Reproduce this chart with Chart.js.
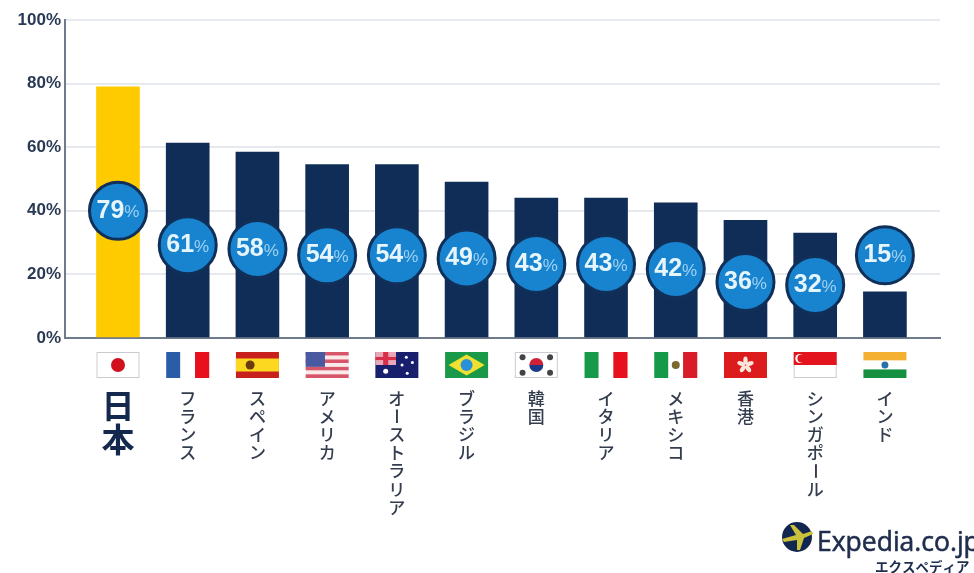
<!DOCTYPE html>
<html lang="ja">
<head>
<meta charset="utf-8">
<style>
  html, body { margin: 0; padding: 0; background: #fff; overflow: hidden; }
  canvas { display: block; filter: blur(0.5px); }
</style>
<script src="https://cdn.jsdelivr.net/npm/chart.js@4/dist/chart.umd.min.js"></script>
</head>
<body>
<canvas id="chart" width="974" height="573"></canvas>
<script>
const categories = ['日本', 'フランス', 'スペイン', 'アメリカ', 'オーストラリア', 'ブラジル', '韓国', 'イタリア', 'メキシコ', '香港', 'シンガポール', 'インド'];
const flags = ['jp', 'fr', 'es', 'us', 'au', 'br', 'kr', 'it', 'mx', 'hk', 'sg', 'in'];
// bar heights
const barValues = [79, 61.3, 58.5, 54.5, 54.5, 49, 44, 44, 42.5, 37, 33, 14.5];
// numbers printed in the circles
const badgeLabels = ['79', '61', '58', '54', '54', '49', '43', '43', '42', '36', '32', '15'];
// height of each circle on the % axis
const badgeLevels = [40, 29.2, 28, 26, 26, 25, 23.3, 23.3, 21.7, 17.6, 16.7, 26];
const tickLabels = ['0%', '20%', '40%', '60%', '80%', '100%'];

const NAVY = '#0f2d57';
const YELLOW = '#fecb00';

function drawFlag(ctx, code, x, y, w, h) {
  const rect = (c, rx, ry, rw, rh) => { ctx.fillStyle = c; ctx.fillRect(x + rx * w, y + ry * h, rw * w, rh * h); };
  const disc = (c, cx, cy, r) => { ctx.fillStyle = c; ctx.beginPath(); ctx.arc(x + cx * w, y + cy * h, r, 0, Math.PI * 2); ctx.fill(); };
  const frame = () => { ctx.strokeStyle = '#c9cdd2'; ctx.lineWidth = 1; ctx.strokeRect(x + 0.5, y + 0.5, w - 1, h - 1); };
  if (code === 'jp') {
    rect('#fff', 0, 0, 1, 1); frame(); disc('#d0101c', 0.5, 0.5, 7);
  } else if (code === 'fr') {
    rect('#2a5ca8', 0, 0, 0.33, 1); rect('#fff', 0.33, 0, 0.34, 1); rect('#e8101c', 0.67, 0, 0.33, 1);
  } else if (code === 'es') {
    rect('#c8201c', 0, 0, 1, 1); rect('#fcd820', 0, 0.25, 1, 0.5); disc('#6a3a10', 0.33, 0.5, 4.5);
  } else if (code === 'us') {
    for (let i = 0; i < 7; i++) {
      rect(i % 2 ? '#fbeaea' : '#d8566a', 0, i / 7, 1, 1 / 7);
    }
    rect('#4a5aa0', 0, 0, 0.45, 4 / 7);
  } else if (code === 'au') {
    rect('#18206e', 0, 0, 1, 1);
    rect('#e8a8b8', 0, 0, 0.48, 0.5);
    rect('#d8304a', 0, 0.19, 0.48, 0.12); rect('#d8304a', 0.18, 0, 0.12, 0.5);
    disc('#fff', 0.24, 0.74, 2.5);
    disc('#fff', 0.72, 0.2, 1.5); disc('#fff', 0.86, 0.4, 1.5); disc('#fff', 0.62, 0.5, 1.5); disc('#fff', 0.74, 0.82, 1.5);
  } else if (code === 'br') {
    rect('#1a9a48', 0, 0, 1, 1);
    ctx.fillStyle = '#f0e030';
    ctx.beginPath();
    ctx.moveTo(x + 0.08 * w, y + h / 2); ctx.lineTo(x + w / 2, y + 0.1 * h);
    ctx.lineTo(x + 0.92 * w, y + h / 2); ctx.lineTo(x + w / 2, y + 0.9 * h);
    ctx.closePath(); ctx.fill();
    disc('#2a90d8', 0.5, 0.5, 6);
  } else if (code === 'kr') {
    rect('#fff', 0, 0, 1, 1); frame();
    ctx.fillStyle = '#d02038';
    ctx.beginPath(); ctx.arc(x + w / 2, y + h / 2, 7, Math.PI, 0); ctx.fill();
    ctx.fillStyle = '#1a3a88';
    ctx.beginPath(); ctx.arc(x + w / 2, y + h / 2, 7, 0, Math.PI); ctx.fill();
    [[0.18, 0.2], [0.82, 0.2], [0.18, 0.8], [0.82, 0.8]].forEach(p => disc('#444', p[0], p[1], 3));
  } else if (code === 'it') {
    rect('#169a4a', 0, 0, 0.33, 1); rect('#fff', 0.33, 0, 0.34, 1); rect('#e8101c', 0.67, 0, 0.33, 1);
  } else if (code === 'mx') {
    rect('#169a4a', 0, 0, 0.33, 1); rect('#fff', 0.33, 0, 0.34, 1); rect('#d81c28', 0.67, 0, 0.33, 1);
    disc('#7a6a30', 0.5, 0.5, 4);
  } else if (code === 'hk') {
    rect('#dc1c1c', 0, 0, 1, 1);
    for (let i = 0; i < 5; i++) {
      const a = -Math.PI / 2 + i * Math.PI * 2 / 5;
      ctx.fillStyle = '#fbe6dc';
      ctx.beginPath();
      ctx.ellipse(x + w / 2 + Math.cos(a) * 4.5, y + h / 2 + Math.sin(a) * 4.5, 4, 2.2, a, 0, Math.PI * 2);
      ctx.fill();
    }
  } else if (code === 'sg') {
    rect('#fff', 0, 0, 1, 1); frame(); rect('#e4141e', 0, 0, 1, 0.5);
    disc('#fff', 0.14, 0.25, 4.5); disc('#e4141e', 0.18, 0.25, 4);
  } else if (code === 'in') {
    rect('#f4b030', 0, 0, 1, 0.33); rect('#fff', 0, 0.33, 1, 0.34); rect('#159040', 0, 0.67, 1, 0.33);
    disc('#2a70a8', 0.5, 0.5, 3.5);
  }
}

function drawVertical(ctx, text, cx, top, step) {
  let y = top;
  for (const ch of text) {
    ctx.save();
    ctx.translate(cx, y + step / 2);
    if (ch === 'ー') ctx.rotate(Math.PI / 2);
    ctx.fillText(ch, 0, 0);
    ctx.restore();
    y += step;
  }
}

function drawLogo(ctx) {
  ctx.fillStyle = '#13264f';
  ctx.beginPath();
  ctx.arc(797, 537, 15, 0, Math.PI * 2);
  ctx.fill();
  ctx.fillStyle = '#c9c23a';
  ctx.beginPath();
  ctx.moveTo(782, 539); ctx.lineTo(796, 535); ctx.lineTo(790, 525); ctx.lineTo(794, 525);
  ctx.lineTo(803, 534); ctx.lineTo(812, 531); ctx.lineTo(813, 534); ctx.lineTo(804, 538);
  ctx.lineTo(800, 550); ctx.lineTo(797, 550); ctx.lineTo(797, 540); ctx.lineTo(784, 542);
  ctx.closePath();
  ctx.fill();
  ctx.textAlign = 'left';
  ctx.textBaseline = 'alphabetic';
  ctx.fillStyle = '#1f2d4d';
  ctx.strokeStyle = '#1f2d4d';
  ctx.lineWidth = 0.6;
  ctx.font = '26.5px "Open Sans"';
  ctx.fillText('Expedia.co.jp', 817, 551);
  ctx.strokeText('Expedia.co.jp', 817, 551);
  ctx.font = 'bold 13.5px "Noto Sans CJK JP"';
  ctx.fillText('エクスペディア', 875, 572);
}

const decorations = {
  id: 'decorations',
  afterDatasetsDraw(chart) {
    const ctx = chart.ctx;
    const x = chart.scales.x;
    const y = chart.scales.y;
    ctx.save();
    categories.forEach((name, i) => {
      const cx = x.getPixelForValue(i);
      drawFlag(ctx, flags[i], cx - 21.5, 352, 43, 26);
      ctx.textAlign = 'center';
      ctx.textBaseline = 'middle';
      if (i === 0) {
        ctx.fillStyle = '#14284e';
        ctx.font = 'bold 33px "Noto Sans CJK JP"';
        drawVertical(ctx, name, cx, 388, 34);
      } else {
        ctx.fillStyle = '#333d4e';
        ctx.font = '500 17px "Noto Sans CJK JP"';
        drawVertical(ctx, name, cx, 389, 18.2);
      }
      // circle text: big number, small lighter percent sign
      const by = y.getPixelForValue(badgeLevels[i]);
      ctx.textAlign = 'left';
      ctx.textBaseline = 'middle';
      ctx.font = 'bold 25px "Liberation Sans"';
      const numW = ctx.measureText(badgeLabels[i]).width;
      ctx.font = '17px "Liberation Sans"';
      const pctW = ctx.measureText('%').width;
      const startX = cx - (numW + pctW) / 2;
      ctx.font = 'bold 25px "Liberation Sans"';
      ctx.fillStyle = '#e6f4fc';
      ctx.fillText(badgeLabels[i], startX, by);
      ctx.font = '17px "Liberation Sans"';
      ctx.fillStyle = '#9fd2f1';
      ctx.fillText('%', startX + numW, by + 2);
    });
    drawLogo(ctx);
    ctx.restore();
  }
};

new Chart(document.getElementById('chart'), {
  type: 'bar',
  data: {
    datasets: [
      {
        type: 'line',
        order: 0,
        showLine: false,
        data: badgeLevels.map((v, i) => ({ x: i, y: v })),
        pointRadius: 28.5,
        pointHoverRadius: 28.5,
        pointBackgroundColor: '#1884d0',
        pointBorderColor: '#10305a',
        pointBorderWidth: 3,
        clip: false
      },
      {
        order: 1,
        data: barValues.map((v, i) => ({ x: i, y: v })),
        backgroundColor: barValues.map((_, i) => (i === 0 ? YELLOW : NAVY)),
        barThickness: 43
      }
    ]
  },
  options: {
    responsive: false,
    animation: false,
    layout: { autoPadding: false, padding: { top: 20, right: 34, bottom: 235, left: 0 } },
    plugins: { legend: { display: false }, tooltip: { enabled: false } },
    scales: {
      x: {
        type: 'linear',
        offset: false,
        min: -0.76,
        max: 11.79,
        grid: { display: false, drawTicks: false },
        ticks: { display: false, stepSize: 1 },
        border: { color: '#6f7a8a', width: 2 }
      },
      y: {
        min: 0,
        max: 100,
        afterFit: (scale) => { scale.width = 65; },
        grid: { color: '#e6e9ed', lineWidth: 2, drawTicks: false },
        border: { color: '#6f7a8a', width: 2 },
        ticks: {
          stepSize: 20,
          padding: 4,
          color: '#2a3a55',
          font: { family: '"Liberation Sans"', size: 17, weight: 'bold' },
          callback: (value) => tickLabels[value / 20]
        }
      }
    }
  },
  plugins: [decorations]
});
</script>
</body>
</html>
